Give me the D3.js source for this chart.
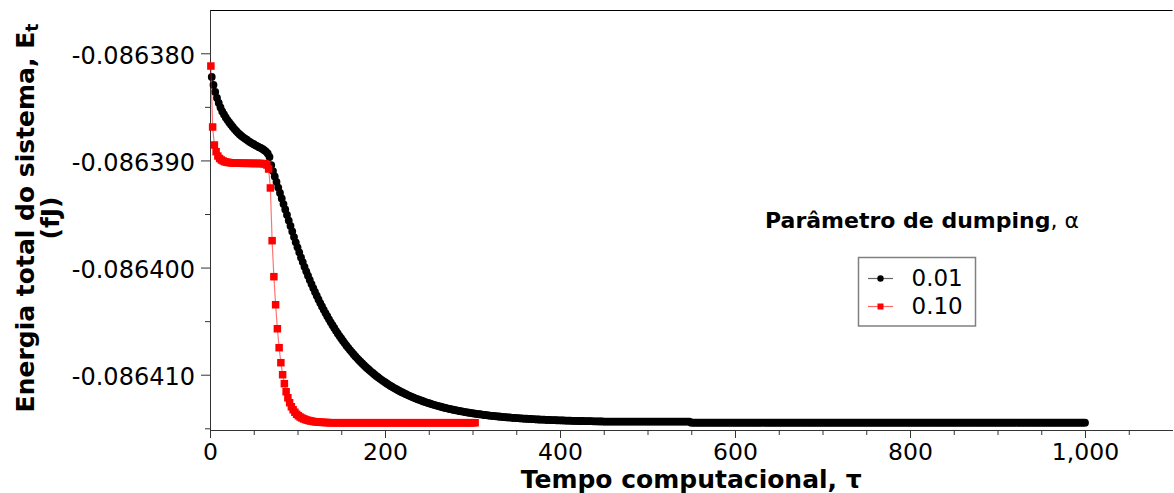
<!DOCTYPE html>
<html>
<head>
<meta charset="utf-8">
<script src="https://cdn.jsdelivr.net/npm/d3@7"></script>
<style>
  html, body { margin: 0; padding: 0; background: #fff; }
  svg { display: block; font-family: "DejaVu Sans", sans-serif; }
</style>
</head>
<body>
<svg id="chart" width="1174" height="493"></svg>
<script>
// Total system energy (fJ) versus computational time τ for two damping parameters.

// α = 0.01 : sampled every 2 time units starting at τ = 2 (500 samples, τ = 2 … 1000)
const alpha001Start = 2, alpha001Step = 2;
const alpha001Energy = [
  -0.08638221,-0.08638296,-0.08638361,-0.08638417,-0.08638464,-0.08638506,-0.08638543,-0.08638571,-0.08638599,-0.08638623,
  -0.08638646,-0.08638667,-0.08638688,-0.08638707,-0.08638725,-0.08638742,-0.08638758,-0.08638772,-0.08638784,-0.08638796,
  -0.08638807,-0.08638819,-0.08638830,-0.08638840,-0.08638849,-0.08638859,-0.08638867,-0.08638876,-0.08638884,-0.08638893,
  -0.08638904,-0.08638917,-0.08638935,-0.08638968,-0.08639043,-0.08639099,-0.08639150,-0.08639201,-0.08639253,-0.08639304,
  -0.08639355,-0.08639407,-0.08639458,-0.08639509,-0.08639561,-0.08639612,-0.08639663,-0.08639715,-0.08639764,-0.08639811,
  -0.08639859,-0.08639905,-0.08639949,-0.08639993,-0.08640035,-0.08640076,-0.08640115,-0.08640154,-0.08640191,-0.08640228,
  -0.08640263,-0.08640297,-0.08640331,-0.08640363,-0.08640394,-0.08640425,-0.08640454,-0.08640483,-0.08640511,-0.08640538,
  -0.08640564,-0.08640590,-0.08640615,-0.08640639,-0.08640662,-0.08640685,-0.08640707,-0.08640729,-0.08640749,-0.08640770,
  -0.08640789,-0.08640808,-0.08640827,-0.08640845,-0.08640862,-0.08640879,-0.08640895,-0.08640911,-0.08640927,-0.08640942,
  -0.08640956,-0.08640971,-0.08640984,-0.08640998,-0.08641011,-0.08641023,-0.08641036,-0.08641048,-0.08641059,-0.08641070,
  -0.08641081,-0.08641092,-0.08641102,-0.08641112,-0.08641122,-0.08641131,-0.08641140,-0.08641149,-0.08641158,-0.08641166,
  -0.08641174,-0.08641182,-0.08641190,-0.08641197,-0.08641204,-0.08641211,-0.08641218,-0.08641225,-0.08641231,-0.08641237,
  -0.08641243,-0.08641249,-0.08641255,-0.08641260,-0.08641266,-0.08641271,-0.08641276,-0.08641281,-0.08641286,-0.08641290,
  -0.08641295,-0.08641299,-0.08641304,-0.08641308,-0.08641312,-0.08641316,-0.08641319,-0.08641323,-0.08641327,-0.08641330,
  -0.08641333,-0.08641337,-0.08641340,-0.08641343,-0.08641346,-0.08641349,-0.08641352,-0.08641354,-0.08641357,-0.08641360,
  -0.08641362,-0.08641365,-0.08641367,-0.08641369,-0.08641371,-0.08641374,-0.08641376,-0.08641378,-0.08641380,-0.08641382,
  -0.08641384,-0.08641385,-0.08641387,-0.08641389,-0.08641390,-0.08641392,-0.08641394,-0.08641395,-0.08641397,-0.08641398,
  -0.08641399,-0.08641401,-0.08641402,-0.08641403,-0.08641405,-0.08641406,-0.08641407,-0.08641408,-0.08641409,-0.08641410,
  -0.08641411,-0.08641412,-0.08641413,-0.08641414,-0.08641415,-0.08641416,-0.08641417,-0.08641418,-0.08641419,-0.08641419,
  -0.08641420,-0.08641421,-0.08641422,-0.08641422,-0.08641423,-0.08641424,-0.08641424,-0.08641425,-0.08641426,-0.08641426,
  -0.08641427,-0.08641427,-0.08641428,-0.08641428,-0.08641429,-0.08641429,-0.08641430,-0.08641430,-0.08641431,-0.08641431,
  -0.08641432,-0.08641432,-0.08641432,-0.08641433,-0.08641433,-0.08641434,-0.08641434,-0.08641434,-0.08641435,-0.08641435,
  -0.08641435,-0.08641436,-0.08641436,-0.08641436,-0.08641437,-0.08641437,-0.08641437,-0.08641437,-0.08641437,-0.08641437,
  -0.08641437,-0.08641437,-0.08641437,-0.08641437,-0.08641437,-0.08641437,-0.08641437,-0.08641437,-0.08641437,-0.08641437,
  -0.08641437,-0.08641437,-0.08641437,-0.08641437,-0.08641437,-0.08641437,-0.08641437,-0.08641437,-0.08641437,-0.08641437,
  -0.08641437,-0.08641437,-0.08641437,-0.08641437,-0.08641437,-0.08641437,-0.08641437,-0.08641437,-0.08641437,-0.08641437,
  -0.08641437,-0.08641437,-0.08641437,-0.08641437,-0.08641437,-0.08641437,-0.08641437,-0.08641437,-0.08641437,-0.08641437,
  -0.08641437,-0.08641437,-0.08641437,-0.08641437,-0.08641448,-0.08641448,-0.08641448,-0.08641448,-0.08641448,-0.08641448,
  /* τ 562 … 1000 */
  -0.08641448,-0.08641448,-0.08641448,-0.08641448,-0.08641448,-0.08641448,-0.08641448,-0.08641448,-0.08641448,-0.08641448,
  -0.08641448,-0.08641448,-0.08641448,-0.08641448,-0.08641448,-0.08641448,-0.08641448,-0.08641448,-0.08641448,-0.08641448,
  -0.08641448,-0.08641448,-0.08641448,-0.08641448,-0.08641448,-0.08641448,-0.08641448,-0.08641448,-0.08641448,-0.08641448,
  -0.08641448,-0.08641448,-0.08641448,-0.08641448,-0.08641448,-0.08641448,-0.08641448,-0.08641448,-0.08641448,-0.08641448,
  -0.08641448,-0.08641448,-0.08641448,-0.08641448,-0.08641448,-0.08641448,-0.08641448,-0.08641448,-0.08641448,-0.08641448,
  -0.08641448,-0.08641448,-0.08641448,-0.08641448,-0.08641448,-0.08641448,-0.08641448,-0.08641448,-0.08641448,-0.08641448,
  -0.08641448,-0.08641448,-0.08641448,-0.08641448,-0.08641448,-0.08641448,-0.08641448,-0.08641448,-0.08641448,-0.08641448,
  -0.08641448,-0.08641448,-0.08641448,-0.08641448,-0.08641448,-0.08641448,-0.08641448,-0.08641448,-0.08641448,-0.08641448,
  -0.08641448,-0.08641448,-0.08641448,-0.08641448,-0.08641448,-0.08641448,-0.08641448,-0.08641448,-0.08641448,-0.08641448,
  -0.08641448,-0.08641448,-0.08641448,-0.08641448,-0.08641448,-0.08641448,-0.08641448,-0.08641448,-0.08641448,-0.08641448,
  -0.08641448,-0.08641448,-0.08641448,-0.08641448,-0.08641448,-0.08641448,-0.08641448,-0.08641448,-0.08641448,-0.08641448,
  -0.08641448,-0.08641448,-0.08641448,-0.08641448,-0.08641448,-0.08641448,-0.08641448,-0.08641448,-0.08641448,-0.08641448,
  -0.08641448,-0.08641448,-0.08641448,-0.08641448,-0.08641448,-0.08641448,-0.08641448,-0.08641448,-0.08641448,-0.08641448,
  -0.08641448,-0.08641448,-0.08641448,-0.08641448,-0.08641448,-0.08641448,-0.08641448,-0.08641448,-0.08641448,-0.08641448,
  -0.08641448,-0.08641448,-0.08641448,-0.08641448,-0.08641448,-0.08641448,-0.08641448,-0.08641448,-0.08641448,-0.08641448,
  -0.08641448,-0.08641448,-0.08641448,-0.08641448,-0.08641448,-0.08641448,-0.08641448,-0.08641448,-0.08641448,-0.08641448,
  -0.08641448,-0.08641448,-0.08641448,-0.08641448,-0.08641448,-0.08641448,-0.08641448,-0.08641448,-0.08641448,-0.08641448,
  -0.08641448,-0.08641448,-0.08641448,-0.08641448,-0.08641448,-0.08641448,-0.08641448,-0.08641448,-0.08641448,-0.08641448,
  -0.08641448,-0.08641448,-0.08641448,-0.08641448,-0.08641448,-0.08641448,-0.08641448,-0.08641448,-0.08641448,-0.08641448,
  -0.08641448,-0.08641448,-0.08641448,-0.08641448,-0.08641448,-0.08641448,-0.08641448,-0.08641448,-0.08641448,-0.08641448,
  -0.08641448,-0.08641448,-0.08641448,-0.08641448,-0.08641448,-0.08641448,-0.08641448,-0.08641448,-0.08641448,-0.08641448,
  -0.08641448,-0.08641448,-0.08641448,-0.08641448,-0.08641448,-0.08641448,-0.08641448,-0.08641448,-0.08641448,-0.08641448
];

// α = 0.10 : sampled every 2 time units starting at τ = 1 (152 samples, τ = 1 … 303)
const alpha010Start = 1, alpha010Step = 2;
const alpha010Energy = [
  -0.08638119,-0.08638688,-0.08638856,-0.08638918,-0.08638959,-0.08638982,-0.08638996,-0.08639005,-0.08639012,-0.08639016,
  -0.08639019,-0.08639021,-0.08639023,-0.08639024,-0.08639025,-0.08639026,-0.08639026,-0.08639026,-0.08639027,-0.08639027,
  -0.08639027,-0.08639027,-0.08639027,-0.08639028,-0.08639028,-0.08639028,-0.08639028,-0.08639028,-0.08639029,-0.08639029,
  -0.08639030,-0.08639032,-0.08639043,-0.08639080,-0.08639257,-0.08639749,-0.08640085,-0.08640347,-0.08640571,-0.08640748,
  -0.08640888,-0.08641000,-0.08641084,-0.08641159,-0.08641215,-0.08641261,-0.08641299,-0.08641327,-0.08641350,-0.08641369,
  -0.08641383,-0.08641395,-0.08641404,-0.08641412,-0.08641418,-0.08641424,-0.08641428,-0.08641432,-0.08641435,-0.08641438,
  -0.08641440,-0.08641441,-0.08641443,-0.08641444,-0.08641445,-0.08641446,-0.08641446,-0.08641447,-0.08641448,-0.08641448,
  -0.08641448,-0.08641448,-0.08641448,-0.08641448,-0.08641448,-0.08641448,-0.08641448,-0.08641448,-0.08641448,-0.08641448,
  -0.08641448,-0.08641448,-0.08641448,-0.08641448,-0.08641448,-0.08641448,-0.08641448,-0.08641448,-0.08641448,-0.08641448,
  -0.08641448,-0.08641448,-0.08641448,-0.08641448,-0.08641448,-0.08641448,-0.08641448,-0.08641448,-0.08641448,-0.08641448,
  -0.08641448,-0.08641448,-0.08641448,-0.08641448,-0.08641448,-0.08641448,-0.08641448,-0.08641448,-0.08641448,-0.08641448,
  -0.08641448,-0.08641448,-0.08641448,-0.08641448,-0.08641448,-0.08641448,-0.08641448,-0.08641448,-0.08641448,-0.08641448,
  -0.08641448,-0.08641448,-0.08641448,-0.08641448,-0.08641448,-0.08641448,-0.08641448,-0.08641448,-0.08641448,-0.08641448,
  -0.08641448,-0.08641448,-0.08641448,-0.08641448,-0.08641448,-0.08641448,-0.08641448,-0.08641448,-0.08641448,-0.08641448,
  -0.08641448,-0.08641448,-0.08641448,-0.08641448,-0.08641448,-0.08641448,-0.08641448,-0.08641448,-0.08641448,-0.08641448,
  -0.08641448,-0.08641448
];

const seriesNames = ["0.01", "0.10"];

// Axis ticks
const xMajorTicks = [0, 200, 400, 600, 800, 1000];
const xTickLabels = ["0", "200", "400", "600", "800", "1,000"];
const xMinorTicks = [50, 100, 150, 250, 300, 350, 450, 500, 550, 650, 700, 750, 850, 900, 950, 1050];
const yMajorTicks = [-0.08638, -0.08639, -0.0864, -0.08641];
const yTickLabels = ["-0.086380", "-0.086390", "-0.086400", "-0.086410"];
const yMinorTicks = [-0.086385, -0.086395, -0.086405, -0.086415];

const xDomain = [0, 1100];
const yDomain = [-0.08641516, -0.08637596];

// ---- layout ----
const plot = { left: 210, right: 1172.5, top: 10, bottom: 430 };
const svg = d3.select("#chart");

const x = d3.scaleLinear().domain(xDomain).range([plot.left, plot.right]);
const y = d3.scaleLinear().domain(yDomain).range([plot.bottom, plot.top]);

const toPoints = (vals, start, step) => vals.map((v, i) => ({ t: start + i * step, e: v }));
const s001 = toPoints(alpha001Energy, alpha001Start, alpha001Step);
const s010 = toPoints(alpha010Energy, alpha010Start, alpha010Step);

const axisColor = "#333";

// top frame line
svg.append("line")
  .attr("x1", plot.left).attr("x2", plot.right)
  .attr("y1", plot.top + 0.5).attr("y2", plot.top + 0.5)
  .attr("stroke", "#000").attr("stroke-width", 1);

// X axis
const xAxisG = svg.append("g").attr("transform", `translate(0,${plot.bottom})`)
  .call(d3.axisBottom(x).tickValues(xMajorTicks).tickSize(8).tickSizeOuter(0).tickPadding(5)
    .tickFormat((d, i) => xTickLabels[i]));
svg.append("g").attr("transform", `translate(0,${plot.bottom})`)
  .call(d3.axisBottom(x).tickValues(xMinorTicks).tickSize(5).tickFormat(""))
  .call(g => g.select(".domain").remove());

// Y axis
const yAxisG = svg.append("g").attr("transform", `translate(${plot.left},0)`)
  .call(d3.axisLeft(y).tickValues(yMajorTicks).tickSize(9).tickSizeOuter(0).tickPadding(6)
    .tickFormat((d, i) => yTickLabels[i]));
svg.append("g").attr("transform", `translate(${plot.left},0)`)
  .call(d3.axisLeft(y).tickValues(yMinorTicks).tickSize(5).tickFormat(""))
  .call(g => g.select(".domain").remove());

svg.selectAll(".domain, .tick line").attr("stroke", axisColor);
svg.selectAll(".tick text").attr("font-family", "DejaVu Sans").attr("fill", "#000");
xAxisG.selectAll(".tick text").attr("font-size", 23.5);
yAxisG.selectAll(".tick text").attr("font-size", 24).attr("dy", "0.42em");

// Axis titles
svg.append("text")
  .attr("x", (plot.left + plot.right) / 2).attr("y", 488)
  .attr("text-anchor", "middle")
  .attr("font-family", "DejaVu Sans").attr("font-weight", "bold").attr("font-size", 25)
  .text("Tempo computacional, τ");

const yTitle = svg.append("g").attr("transform", "translate(0,218) rotate(-90)");
const line1 = yTitle.append("text")
  .attr("x", 0).attr("y", 34).attr("text-anchor", "middle")
  .attr("font-family", "DejaVu Sans").attr("font-weight", "bold").attr("font-size", 25);
line1.append("tspan").text("Energia total do sistema, E");
line1.append("tspan").attr("font-size", 17).attr("dy", 4).text("t");
yTitle.append("text")
  .attr("x", 0).attr("y", 59).attr("text-anchor", "middle")
  .attr("font-family", "DejaVu Sans").attr("font-weight", "bold").attr("font-size", 25)
  .text("(fJ)");

// ---- series ----
const lineGen = d3.line().x(d => x(d.t)).y(d => y(d.e));

const g001 = svg.append("g");
g001.append("path").datum(s001).attr("d", lineGen)
  .attr("fill", "none").attr("stroke", "#000").attr("stroke-opacity", 0.6).attr("stroke-width", 1);
g001.selectAll("circle").data(s001).join("circle")
  .attr("cx", d => x(d.t)).attr("cy", d => y(d.e)).attr("r", 3.9).attr("fill", "#000");

const sq = 7.5;
const g010 = svg.append("g");
g010.append("path").datum(s010).attr("d", lineGen)
  .attr("fill", "none").attr("stroke", "#ff0000").attr("stroke-opacity", 0.55).attr("stroke-width", 1.2);
g010.selectAll("rect").data(s010).join("rect")
  .attr("x", d => x(d.t) - sq / 2).attr("y", d => y(d.e) - sq / 2)
  .attr("width", sq).attr("height", sq).attr("fill", "#ff0000");

// ---- legend ----
const legTitle = svg.append("text")
  .attr("x", 765).attr("y", 228)
  .attr("font-family", "DejaVu Sans").attr("font-size", 22);
legTitle.append("tspan").attr("font-weight", "bold").text("Parâmetro de dumping");
legTitle.append("tspan").text(", α");

svg.append("rect")
  .attr("x", 858.5).attr("y", 257.5).attr("width", 117).attr("height", 68.5)
  .attr("fill", "#fff").attr("stroke", "#808080").attr("stroke-width", 1.5);

const legRows = [
  { name: seriesNames[0], color: "#000", shape: "circle", cy: 278.5 },
  { name: seriesNames[1], color: "#ff0000", shape: "square", cy: 306.5 }
];
legRows.forEach(r => {
  svg.append("line").attr("x1", 868).attr("x2", 893).attr("y1", r.cy).attr("y2", r.cy)
    .attr("stroke", r.color).attr("stroke-opacity", 0.6).attr("stroke-width", 1.2);
  if (r.shape === "circle") {
    svg.append("circle").attr("cx", 880.5).attr("cy", r.cy).attr("r", 3.2).attr("fill", r.color);
  } else {
    svg.append("rect").attr("x", 880.5 - 3).attr("y", r.cy - 3).attr("width", 6).attr("height", 6).attr("fill", r.color);
  }
  svg.append("text").attr("x", 911.5).attr("y", r.cy + 7.5)
    .attr("font-family", "DejaVu Sans").attr("font-size", 23).text(r.name);
});
</script>
</body>
</html>
